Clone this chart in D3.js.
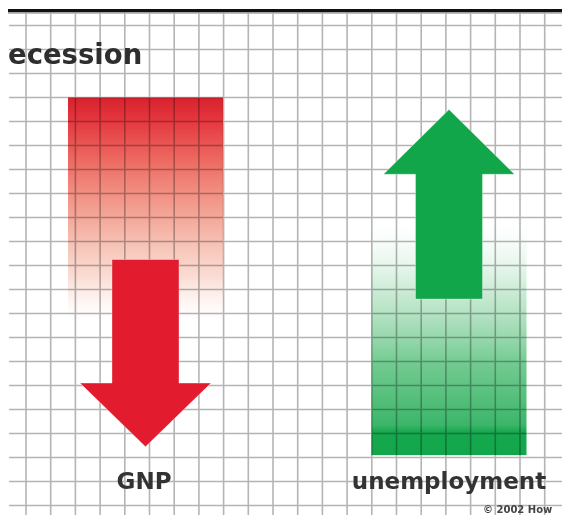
<!DOCTYPE html>
<html>
<head>
<meta charset="utf-8">
<script src="https://cdn.jsdelivr.net/npm/d3@7"></script>
<style>
  html, body { margin: 0; padding: 0; background: #fff; }
  svg { display: block; }
</style>
</head>
<body>
<div id="chart"></div>
<script>
// ---- data (grid units: one unit = one grid row) ----
const categories = ["GNP", "unemployment"];
const directions = ["down", "up"];
const ghostFrom  = [17.0, 2.1];   // solid end of the faded "before" bar
const ghostTo    = [7.7, 11.7];   // faded end of the bar
const arrowTail  = [10.25, 8.6];
const arrowHead  = [5.1, 13.8];   // where the arrow head begins
const arrowTip   = [2.45, 16.5];
const titleText  = "ecession";
const creditText = "\u00A9 2002 How";

const W = 562, H = 515;
const svg = d3.select("#chart").append("svg").attr("width", W).attr("height", H);

// scales
const y = d3.scaleLinear().domain([0, 20]).range([505.5, 25.5]);
const x = d3.scalePoint().domain(categories).range([145.5, 449]);
const gx = d3.scaleLinear().domain([0, 21]).range([26, 26 + 24.7 * 21]);

const colors = { GNP: "#e31b2f", unemployment: "#12a64b" };

// gradients
const defs = svg.append("defs");
const gRed = defs.append("linearGradient").attr("id", "gRed")
  .attr("x1", 0).attr("y1", 0).attr("x2", 0).attr("y2", 1);
[[0, "#d8222d", 1], [0.1, "#e4363e", 1], [0.3, "#ec6258", 0.92], [0.55, "#f08e7a", 0.75],
 [0.8, "#f5b8a6", 0.5], [1, "#fbe0d8", 0]].forEach(s =>
  gRed.append("stop").attr("offset", s[0]).attr("stop-color", s[1]).attr("stop-opacity", s[2]));
const gGreen = defs.append("linearGradient").attr("id", "gGreen")
  .attr("x1", 0).attr("y1", 1).attr("x2", 0).attr("y2", 0);
[[0, "#12a64b", 1], [0.1, "#16a84e", 1], [0.13, "#2aaf5c", 0.92], [0.4, "#44b96c", 0.75],
 [0.7, "#86d09d", 0.45], [1, "#c8ecd4", 0]].forEach(s =>
  gGreen.append("stop").attr("offset", s[0]).attr("stop-color", s[1]).attr("stop-opacity", s[2]));

const ghostW = 155, shaftW = 67, headW = 131;

// ghost bars
svg.selectAll("rect.ghost").data(categories).join("rect")
  .attr("class", "ghost")
  .attr("x", d => x(d) - ghostW / 2)
  .attr("y", (d, i) => Math.min(y(ghostFrom[i]), y(ghostTo[i])))
  .attr("width", ghostW)
  .attr("height", (d, i) => Math.abs(y(ghostFrom[i]) - y(ghostTo[i])))
  .attr("fill", (d, i) => directions[i] === "down" ? "url(#gRed)" : "url(#gGreen)");

// grid
const grid = svg.append("g").style("mix-blend-mode", "multiply");
grid.selectAll("line.h").data(d3.range(0, 21)).join("line")
  .attr("x1", 9).attr("x2", W).attr("y1", d => y(d)).attr("y2", d => y(d))
  .attr("stroke", "#b4b4b4").attr("stroke-width", 1.6);
grid.selectAll("line.v").data(d3.range(0, 22)).join("line")
  .attr("y1", 12).attr("y2", H).attr("x1", d => gx(d)).attr("x2", d => gx(d))
  .attr("stroke", "#b4b4b4").attr("stroke-width", 1.6);

// top rule
svg.append("rect").attr("x", 8).attr("y", 9).attr("width", W - 8).attr("height", 3.5).attr("fill", "#111");
svg.append("rect").attr("x", 8).attr("y", 12.5).attr("width", W - 8).attr("height", 1.5).attr("fill", "#bbb");

// arrows
function arrowPath(d, i) {
  const cx = x(d);
  const t = y(arrowTail[i]), h = y(arrowHead[i]), p = y(arrowTip[i]);
  return [
    [cx - shaftW / 2, t], [cx + shaftW / 2, t], [cx + shaftW / 2, h],
    [cx + headW / 2, h], [cx, p], [cx - headW / 2, h], [cx - shaftW / 2, h]
  ].map((q, k) => (k ? "L" : "M") + q[0] + "," + q[1]).join("") + "Z";
}
svg.selectAll("path.arrow").data(categories).join("path")
  .attr("class", "arrow")
  .attr("d", arrowPath)
  .attr("fill", d => colors[d])
  .attr("stroke", "#ffffff").attr("stroke-opacity", 0.35).attr("stroke-width", 1);

// labels
const font = "'DejaVu Sans', sans-serif";
svg.selectAll("text.cat").data(categories).join("text")
  .attr("class", "cat")
  .attr("x", d => x(d) - (d === "GNP" ? 1.5 : 0))
  .attr("y", 489)
  .attr("text-anchor", "middle")
  .attr("font-family", font).attr("font-weight", "bold").attr("font-size", 23)
  .attr("fill", "#333")
  .text(d => d);

svg.append("text").attr("x", 8).attr("y", 64)
  .attr("font-family", font).attr("font-weight", "bold").attr("font-size", 27.5)
  .attr("fill", "#2e2e2e").text(titleText);

svg.append("text").attr("x", 483).attr("y", 513)
  .attr("font-family", font).attr("font-weight", "bold").attr("font-size", 10)
  .attr("fill", "#444").text(creditText);
</script>
</body>
</html>
